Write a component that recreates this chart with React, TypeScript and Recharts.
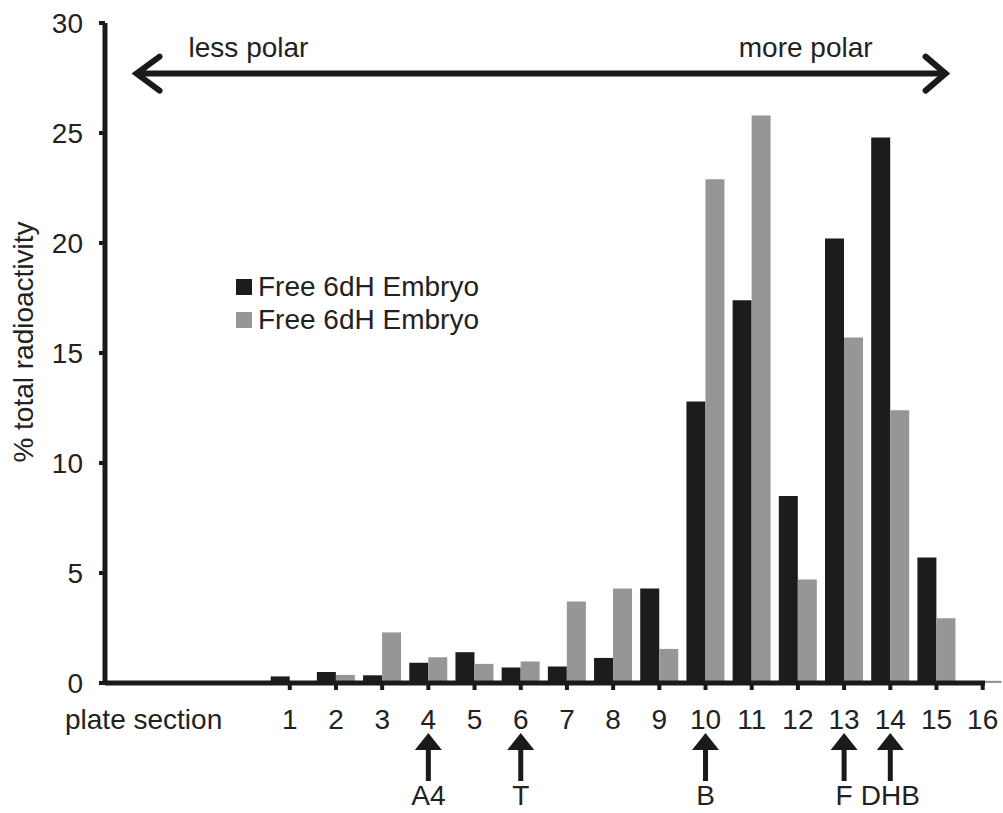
import React from 'react';
import { BarChart, Bar, XAxis, YAxis, Legend, ReferenceLine } from 'recharts';

const sections = [1, 2, 3, 4, 5, 6, 7, 8, 9, 10, 11, 12, 13, 14, 15, 16];
const seriesA = [0.3, 0.5, 0.35, 0.92, 1.4, 0.71, 0.75, 1.14, 4.3, 12.8, 17.4, 8.5, 20.2, 24.8, 5.7, 0];
const seriesB = [0, 0.37, 2.3, 1.17, 0.87, 0.98, 3.7, 4.3, 1.55, 22.9, 25.8, 4.7, 15.7, 12.4, 2.94, 0.1];
const seriesNames = ['Free 6dH Embryo', 'Free 6dH Embryo'];
const yTicks = [0, 5, 10, 15, 20, 25, 30];
const markerSections = [4, 6, 10, 13, 14];
const markerLabels = ['A4', 'T', 'B', 'F', 'DHB'];
const polarLabels = ['less polar', 'more polar'];
const arrowSpan = [-2.36, 15.24];
const arrowLevel = 27.7;

const data = sections.map((s, i) => ({ section: s, a: seriesA[i], b: seriesB[i] }));

const FONT = '"Liberation Sans", Arial, sans-serif';
const TEXT = '#222';
const INK = '#1a1a1a';

const XTick = (props: any) => {
  const { x, y, payload } = props;
  const idx = markerSections.indexOf(payload.value);
  return (
    <g>
      <text x={x} y={y + 37} textAnchor="middle" fontSize={28} fontFamily={FONT} fill={TEXT}>
        {payload.value}
      </text>
      {idx >= 0 && (
        <g>
          <polygon points={`${x},${y + 41} ${x - 13.5},${y + 58} ${x + 13.5},${y + 58}`} fill={INK} />
          <rect x={x - 2.5} y={y + 57} width={5} height={32} fill={INK} />
          <text x={x} y={y + 113} textAnchor="middle" fontSize={28} fontFamily={FONT} fill={TEXT}>
            {markerLabels[idx]}
          </text>
        </g>
      )}
    </g>
  );
};

const ArrowShape = (props: any) => {
  const { x1, y1, x2, y2 } = props;
  return (
    <g>
      <line x1={x1 + 3} y1={y1} x2={x2 - 3} y2={y2} stroke={INK} strokeWidth={6} />
      <polyline points={`${x1 + 25},${y1 - 17} ${x1 + 2},${y1} ${x1 + 25},${y1 + 17}`} fill="none" stroke={INK} strokeWidth={6} strokeLinecap="round" strokeLinejoin="miter" />
      <polyline points={`${x2 - 22},${y2 - 17} ${x2 - 2},${y2} ${x2 - 22},${y2 + 17}`} fill="none" stroke={INK} strokeWidth={6} strokeLinecap="round" strokeLinejoin="miter" />
      <text x={x1 + 54} y={y1 - 17} textAnchor="start" fontSize={28} fontFamily={FONT} fill={TEXT}>
        {polarLabels[0]}
      </text>
      <text x={x2 - 75} y={y2 - 17} textAnchor="end" fontSize={28} fontFamily={FONT} fill={TEXT}>
        {polarLabels[1]}
      </text>
    </g>
  );
};

const renderLegend = (props: any) => {
  const { payload } = props;
  return (
    <div style={{ fontFamily: FONT, fontSize: 28, color: TEXT }}>
      {(payload || []).map((p: any, i: number) => (
        <div key={i} style={{ display: 'flex', alignItems: 'center', height: 33, lineHeight: '33px', whiteSpace: 'nowrap' }}>
          <span style={{ display: 'inline-block', width: 16, height: 16, background: p.color, marginRight: 6 }} />
          <span>{p.value}</span>
        </div>
      ))}
    </div>
  );
};

export default function App() {
  return (
    <div style={{ position: 'absolute', left: 0, top: 0, width: 1003, height: 813, overflow: 'hidden', background: '#fff' }}>
      <BarChart
        width={1003}
        height={813}
        data={data}
        margin={{ top: 23, right: 18, bottom: 0, left: 0 }}
        barGap={0}
      >
        <XAxis
          dataKey="section"
          type="number"
          domain={[-3, 16.05]}
          ticks={sections}
          interval={0}
          height={130}
          tickSize={7}
          tickMargin={2}
          axisLine={{ stroke: INK, strokeWidth: 5 }}
          tickLine={{ stroke: INK, strokeWidth: 4 }}
          tick={<XTick />}
          allowDataOverflow={false}
          label={{
            value: 'plate section',
            content: (lp: any) => {
              const vb = lp.viewBox || { x: 105, y: 683 };
              return (
                <text x={vb.x - 40} y={vb.y + 46} fontSize={28} fontFamily={FONT} fill={TEXT}>
                  plate section
                </text>
              );
            },
          }}
        />
        <YAxis
          type="number"
          domain={[0, 30]}
          ticks={yTicks}
          interval={0}
          width={105}
          tickSize={6}
          tickMargin={16}
          axisLine={{ stroke: INK, strokeWidth: 5 }}
          tickLine={{ stroke: INK, strokeWidth: 4 }}
          tick={{ fontSize: 28, fontFamily: FONT, fill: TEXT }}
          label={{
            value: '% total radioactivity',
            content: (lp: any) => {
              const vb = lp.viewBox || { x: 0, y: 23, height: 660 };
              const cx = 33;
              const cy = vb.y + vb.height / 2 - 11;
              return (
                <text x={cx} y={cy} transform={`rotate(-90 ${cx} ${cy})`} textAnchor="middle" fontSize={28} fontFamily={FONT} fill={TEXT}>
                  % total radioactivity
                </text>
              );
            },
          }}
        />
        <Legend
          layout="vertical"
          align="center"
          verticalAlign="middle"
          content={renderLegend}
          wrapperStyle={{ position: 'absolute', left: 236, top: 270, width: 300 }}
        />
        <ReferenceLine
          segment={[{ x: arrowSpan[0], y: arrowLevel }, { x: arrowSpan[1], y: arrowLevel }]}
          shape={<ArrowShape />}
          ifOverflow="visible"
        />
        <Bar dataKey="a" name={seriesNames[0]} fill="#1c1c1c" barSize={19} isAnimationActive={false} />
        <Bar dataKey="b" name={seriesNames[1]} fill="#969696" barSize={19} isAnimationActive={false} />
      </BarChart>
    </div>
  );
}
